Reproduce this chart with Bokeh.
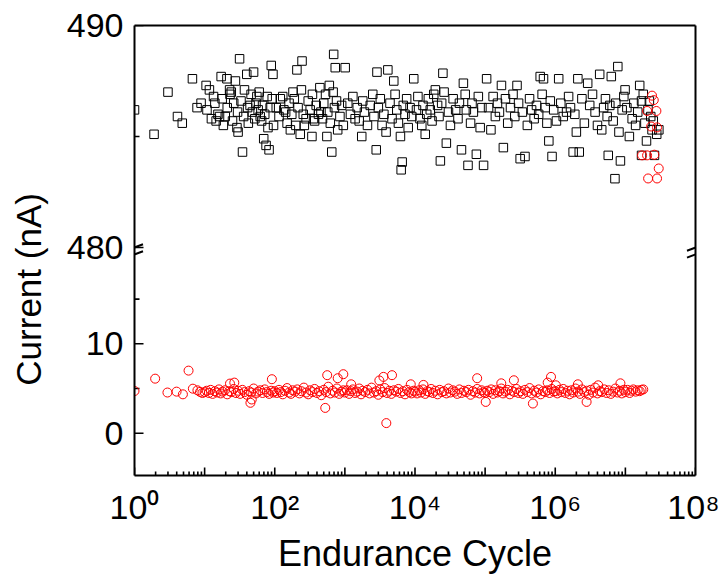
import json, math
from bokeh.plotting import figure
from bokeh.models import (Range1d, LinearAxis, LogAxis, FixedTicker, Arrow,
                          CustomJSTickFormatter)
from bokeh.embed import file_html
from bokeh.resources import INLINE

# ---------------- data ----------------
# High-current state (black squares), top panel, nA
black_x = [
    1, 1.9, 3.0, 4.1, 4.8, 6.7, 7.8, 8.9,
    10.5, 11.7, 13.4, 14.6, 16.3, 17.2, 19.7, 20.8, 22.7, 24, 27.5, 28.9, 31.5, 34.7, 39.9, 44.5,
    49.9, 55.6, 62, 69.6, 75.2, 83, 89.1, 94.3, 96.1,
    10.8, 12.5, 14, 15.5, 17.8, 18.5, 21, 23, 25, 26, 29.5, 30, 33, 36, 37, 41, 42, 46, 48, 52,
    54, 58, 60, 65, 67, 72, 78, 80, 86, 92,
    120, 143, 167, 182, 207, 231, 245, 264, 339, 357, 456, 554, 650, 692, 729, 790,
    105, 115, 130, 135, 150, 160, 175, 190, 200, 215, 240, 255, 280, 300, 320, 345, 370, 390,
    420, 440, 480, 500, 530, 570, 600, 620, 680, 710, 760, 850, 900, 950,
    1010, 1400, 1740, 2870, 2800, 3390, 4100, 4980, 3870, 6200, 6560, 6350, 9600,
    1100, 1200, 1300, 1500, 1600, 1800, 1900, 2100, 2300, 2500, 2600, 3000, 3200, 3600, 4400,
    4700, 5200, 5500, 5800, 6800, 7200, 7600, 8000, 8500, 9000,
    11800, 14000, 14700, 19500, 25000, 23000, 28000, 46000, 49000, 57000, 75000, 95000,
    10500, 11000, 12500, 13000, 15500, 16500, 17500, 18500, 21000, 22000, 24000, 26000, 30000,
    32000, 35000, 38000, 41000, 43000, 52000, 54000, 62000, 65000, 68000, 80000, 85000, 90000,
    105000, 121000, 171000, 182000, 285000, 316000, 370000, 610000, 680000, 810000, 900000,
    112000, 130000, 140000, 150000, 160000, 195000, 210000, 230000, 250000, 265000, 300000,
    340000, 400000, 430000, 460000, 500000, 540000, 580000, 650000, 720000, 760000, 850000, 950000,
    1.12e6, 1.04e6, 1.45e6, 2.0e6, 1.8e6, 2.2e6, 2.1e6, 2.9e6, 4.3e6, 4.6e6, 5.7e6, 6.3e6,
    7.8e6, 9.9e6, 8.5e6, 7.1e6,
    1.2e6, 1.3e6, 1.55e6, 1.65e6, 1.9e6, 2.4e6, 2.6e6, 3.1e6, 3.4e6, 3.7e6, 4.0e6, 4.9e6,
    5.2e6, 5.5e6, 6.0e6, 6.7e6, 7.3e6, 8.1e6, 9.0e6, 9.5e6,
    1.14e7, 1.4e7, 1.6e7, 1.8e7, 1.5e7, 1.7e7, 2.2e7, 2.0e7, 2.4e7, 3.0e7, 1.7e7, 2.6e7,
    1.05e7, 1.25e7, 1.32e7, 1.9e7, 2.1e7, 2.3e7, 2.5e7, 2.8e7,
]
black_y = [
    486.2, 485.1, 487.0, 485.9, 485.6, 487.6, 486.3, 486.5,
    487.3, 487.1, 486.8, 485.7, 485.9, 487.7, 485.9, 487.6, 487.1, 487.0, 487.5, 485.4, 488.5,
    484.3, 487.8, 486.4, 487.9, 486.8, 485.9, 484.9, 484.6, 484.4, 488.2, 487.8, 485.5,
    486.2, 485.8, 486.5, 486.0, 486.7, 485.5, 486.3, 486.9, 485.7, 486.5, 486.1, 485.2, 486.6,
    485.9, 487.1, 486.3, 485.6, 486.9, 486.1, 485.8, 486.5, 486.2, 487.0, 485.7, 486.4, 486.0,
    486.8, 485.4, 486.3, 486.7,
    486.7, 486.1, 485.3, 487.0, 488.0, 485.1, 488.4, 485.5, 485.0, 485.8, 486.1, 485.0, 484.3,
    488.7, 488.1, 485.3,
    486.3, 485.9, 486.8, 486.2, 485.6, 486.5, 486.0, 486.7, 485.5, 486.3, 487.1, 486.0, 485.8,
    486.6, 486.2, 486.9, 485.7, 486.4, 486.0, 487.2, 485.8, 486.5, 486.9, 486.1, 487.3, 485.6,
    487.0, 486.3, 486.6, 485.9, 486.4, 485.5,
    488.1, 485.8, 485.0, 487.9, 484.4, 485.5, 488.0, 487.5, 485.2, 485.0, 483.85, 483.5, 487.6,
    486.5, 486.0, 486.8, 486.3, 485.7, 486.6, 486.1, 485.5, 486.4, 486.9, 485.9, 486.3, 486.7,
    486.0, 486.5, 485.8, 486.9, 486.2, 485.6, 486.4, 486.0, 486.7, 485.4, 486.3, 485.9,
    485.8, 485.1, 486.0, 487.1, 487.85, 483.9, 484.7, 484.4, 487.4, 483.7, 484.2, 483.7,
    486.2, 486.8, 485.5, 486.4, 486.7, 486.2, 485.7, 486.9, 486.4, 485.9, 486.5, 487.0, 486.1,
    485.5, 486.7, 486.2, 485.8, 486.5, 486.9, 486.2, 485.6, 486.5, 486.1, 486.8, 485.4, 486.3,
    487.6, 485.3, 487.3, 484.5, 487.3, 484.0, 484.1, 487.7, 487.6, 484.8, 484.1,
    486.3, 486.8, 485.9, 486.5, 486.1, 486.7, 485.6, 486.3, 486.9, 485.9, 486.5, 486.1, 485.5,
    486.7, 486.2, 485.8, 486.4, 486.0, 486.9, 486.3, 485.6, 486.6, 486.2,
    487.6, 485.7, 486.1, 485.2, 484.3, 484.3, 487.6, 487.4, 487.8, 485.3, 484.15, 487.7,
    488.15, 487.1, 483.9, 483.1,
    486.5, 485.9, 486.8, 486.3, 486.0, 486.7, 485.6, 486.4, 486.9, 486.1, 485.5, 486.3,
    486.7, 485.9, 486.4, 485.7, 486.5, 485.2, 486.2, 486.8,
    485.0, 485.5, 487.3, 486.9, 486.1, 486.6, 486.6, 484.8, 485.3, 485.3, 484.15, 484.15,
    486.3, 485.8, 486.5, 485.6, 486.2, 485.9, 485.7, 485.1,
]

# Red circles that appear in the top panel at the end of the test
red_high_x = [2.40e7, 2.54e7, 2.04e7, 2.77e7, 2.33e7, 2.83e7, 1.73e7, 2.04e7, 2.59e7, 2.99e7,
              2.11e7, 2.83e7]
red_high_y = [486.84, 486.64, 486.15, 486.15, 485.45, 485.41, 484.15, 484.15, 484.18, 483.56,
              483.11, 483.11]

# Low-current state (red circles), bottom panel, nA
red_x = [
    1, 1.97, 2.95, 3.98, 4.9, 5.9, 6.8, 7.9, 8.6, 9.3,
    10, 10.7, 11.5, 12.2, 13, 14, 15, 16, 17, 18, 19.5, 21, 22.5, 24, 26, 28, 30, 32, 34.5, 37,
    40, 43, 46, 50, 54, 58, 62, 67, 72, 77, 83, 89, 95,
    100, 107, 115, 122, 130, 140, 150, 160, 170, 180, 195, 210, 225, 240, 260, 280, 300, 320,
    345, 370, 400, 430, 460, 500, 540, 580, 620, 670, 720, 770, 830, 890, 950,
    1000, 1070, 1150, 1220, 1300, 1400, 1500, 1600, 1700, 1800, 1950, 2100, 2250, 2400, 2600,
    2800, 3000, 3200, 3450, 3700, 4000, 4300, 4600, 5000, 5400, 5800, 6200, 6700, 7200, 7700,
    8300, 8900, 9500,
    1.0e4, 1.07e4, 1.15e4, 1.22e4, 1.3e4, 1.4e4, 1.5e4, 1.6e4, 1.7e4, 1.8e4, 1.95e4, 2.1e4,
    2.25e4, 2.4e4, 2.6e4, 2.8e4, 3.0e4, 3.2e4, 3.45e4, 3.7e4, 4.0e4, 4.3e4, 4.6e4, 5.0e4,
    5.4e4, 5.8e4, 6.2e4, 6.7e4, 7.2e4, 7.7e4, 8.3e4, 8.9e4, 9.5e4,
    1.0e5, 1.07e5, 1.15e5, 1.22e5, 1.3e5, 1.4e5, 1.5e5, 1.6e5, 1.7e5, 1.8e5, 1.95e5, 2.1e5,
    2.25e5, 2.4e5, 2.6e5, 2.8e5, 3.0e5, 3.2e5, 3.45e5, 3.7e5, 4.0e5, 4.3e5, 4.6e5, 5.0e5,
    5.4e5, 5.8e5, 6.2e5, 6.7e5, 7.2e5, 7.7e5, 8.3e5, 8.9e5, 9.5e5,
    1.0e6, 1.07e6, 1.15e6, 1.22e6, 1.3e6, 1.4e6, 1.5e6, 1.6e6, 1.7e6, 1.8e6, 1.95e6, 2.1e6,
    2.25e6, 2.4e6, 2.6e6, 2.8e6, 3.0e6, 3.2e6, 3.45e6, 3.7e6, 4.0e6, 4.3e6, 4.6e6, 5.0e6,
    5.4e6, 5.8e6, 6.2e6, 6.7e6, 7.2e6, 7.7e6, 8.3e6, 8.9e6, 9.5e6,
    1.0e7, 1.07e7, 1.15e7, 1.22e7, 1.3e7, 1.4e7, 1.5e7, 1.6e7, 1.7e7, 1.8e7,
    23, 26.5, 45, 47, 91, 525, 560, 790, 950, 1230, 3100, 3550, 3900, 4700, 8700, 13200,
    77000, 102000, 170000, 257000, 480000, 870000, 1.02e6, 7.8e5, 2.1e6, 2.8e6, 4.1e6, 8.5e6,
]
red_y = [
    4.72, 6.1, 4.55, 4.65, 4.35, 7.0, 4.98, 4.8, 4.62, 4.5,
    4.6, 4.75, 4.5, 4.85, 4.4, 4.7, 4.55, 4.9, 4.45, 4.65, 4.8, 4.35, 4.7, 4.6, 4.95, 4.5, 4.75,
    4.4, 4.85, 4.6, 4.3, 4.7, 4.55, 5.0, 4.45, 4.65, 4.8, 4.5, 4.9, 4.6, 4.4, 4.75, 4.55,
    4.7, 4.5, 4.85, 4.6, 4.35, 4.75, 5.05, 4.55, 4.4, 4.8, 4.65, 4.9, 4.45, 4.7, 5.1, 4.55,
    4.35, 4.8, 4.6, 4.95, 4.5, 4.7, 4.25, 4.85, 4.6, 5.2, 4.45, 4.75, 4.55, 5.0, 4.4, 4.65, 4.8,
    4.55, 4.8, 4.4, 4.7, 4.9, 4.5, 4.65, 5.0, 4.35, 4.75, 4.6, 4.85, 4.45, 5.1, 4.55, 4.7,
    4.3, 4.9, 4.6, 5.05, 4.5, 4.75, 4.4, 4.8, 4.65, 4.95, 4.5, 4.7, 4.35, 4.85, 4.6, 4.45, 4.75,
    4.65, 4.45, 4.8, 4.55, 4.9, 4.4, 4.7, 4.6, 4.95, 4.5, 4.75, 4.35, 4.85, 4.6, 4.7, 4.45,
    5.0, 4.55, 4.8, 4.65, 4.4, 4.9, 4.5, 4.75, 4.6, 4.85, 4.3, 4.7, 4.55, 4.95, 4.45, 4.8, 4.6,
    4.5, 4.75, 4.6, 4.9, 4.4, 4.8, 4.55, 4.7, 5.0, 4.45, 4.65, 4.85, 4.35, 4.75, 4.6, 4.95,
    4.5, 4.7, 4.4, 4.85, 4.6, 5.05, 4.45, 4.75, 4.55, 4.9, 4.35, 4.7, 4.6, 4.8, 4.5, 4.95, 4.65,
    4.7, 4.45, 4.85, 4.6, 4.95, 4.5, 4.75, 4.35, 4.8, 4.55, 5.0, 4.65, 4.4, 4.9, 4.6, 4.75,
    4.3, 4.85, 4.55, 5.1, 4.45, 4.7, 4.6, 4.9, 4.5, 4.8, 4.4, 4.65, 5.0, 4.55, 4.75, 4.45, 4.85,
    4.6, 4.85, 4.5, 4.75, 4.9, 4.65, 4.8, 4.7, 4.85, 4.9,
    5.55, 5.66, 3.4, 3.77, 6.04, 2.83, 6.49, 6.15, 6.6, 5.47, 5.9, 6.3, 1.13, 6.49, 5.47, 5.4,
    6.15, 3.5, 5.58, 5.92, 3.32, 6.3, 5.36, 5.66, 5.47, 3.5, 5.36, 5.58,
]

# Axes
x_major_ticks = [1, 10, 100, 1e3, 1e4, 1e5, 1e6, 1e7, 1e8]
x_tick_labels = ["10\u2070", "", "10\u00b2", "", "10\u2074", "", "10\u2076", "", "10\u2078"]
x_minor_ticks = [m * d for d in x_major_ticks[:-1] for m in range(2, 10)]
low_major_ticks, low_minor_ticks = [0, 10], [5, 15]
high_major_ticks, high_minor_ticks = [480, 490], [485]
LOW_RANGE = (-4.73, 45.6)      # bottom panel scale, spread over the whole frame
HIGH_RANGE = (469.73, 490.0)   # top panel scale, spread over the whole frame
BREAK_LOW, BREAK_HIGH = 20, 480
y_title = "Current (nA)"
x_title = "Endurance Cycle"

FONT = "Liberation Sans"
FW, FH = 561, 450

p = figure(width=719, height=576, x_axis_type="log",
           x_range=Range1d(1, 1e8), y_range=Range1d(*LOW_RANGE),
           output_backend="svg", toolbar_location=None,
           min_border_left=134, min_border_right=24, min_border_top=25,
           min_border_bottom=101)
p.extra_y_ranges = {"high": Range1d(*HIGH_RANGE)}
p.xgrid.visible = False
p.ygrid.visible = False
p.outline_line_color = None

def to_low(v):
    return LOW_RANGE[0] + (v - HIGH_RANGE[0]) / (HIGH_RANGE[1] - HIGH_RANGE[0]) * (LOW_RANGE[1] - LOW_RANGE[0])

threshold = (max(low_major_ticks + low_minor_ticks) + to_low(min(high_major_ticks + high_minor_ticks))) / 2

# bottom (log) axis
xa = p.xaxis[0]
xa.ticker = FixedTicker(ticks=x_major_ticks, minor_ticks=x_minor_ticks)
xa.formatter = CustomJSTickFormatter(code="""
const labels = %s;
const e = Math.round(Math.log10(tick));
return labels[e];
""" % json.dumps(x_tick_labels))
xa.axis_label = x_title

# left axis (shared by both panels)
ya = p.yaxis[0]
ya.ticker = FixedTicker(ticks=low_major_ticks + [to_low(v) for v in high_major_ticks],
                        minor_ticks=low_minor_ticks + [to_low(v) for v in high_minor_ticks])
ya.formatter = CustomJSTickFormatter(code="""
if (tick > %f) {
  return String(Math.round(%f + (tick - %f) * %f));
}
return String(Math.round(tick));
""" % (threshold, HIGH_RANGE[0], LOW_RANGE[0],
       (HIGH_RANGE[1] - HIGH_RANGE[0]) / (LOW_RANGE[1] - LOW_RANGE[0])))
# title is padded at its far end so that its visible text sits where the reference has it
ya.axis_label = y_title + "\u00a0" * 8

for ax, stand, lstand in ((xa, 12, 4), (ya, 11, 16)):
    ax.axis_line_width = 2
    ax.major_tick_in = 0
    ax.major_tick_out = 0
    ax.minor_tick_in = 0
    ax.minor_tick_out = 0
    ax.major_label_text_font = FONT
    ax.major_label_text_font_size = "34px"
    ax.major_label_text_color = "black"
    ax.major_label_standoff = stand
    ax.axis_label_text_font = FONT
    ax.axis_label_text_font_size = "35px"
    ax.axis_label_text_font_style = "normal"
    ax.axis_label_text_color = "black"
    ax.axis_label_standoff = lstand
xa.axis_label_text_font_size = "36px"

top_axis = LogAxis(ticker=FixedTicker(ticks=[]), axis_line_width=2,
                   major_tick_line_color=None, minor_tick_line_color=None,
                   major_label_text_font_size="0px")
right_axis = LinearAxis(ticker=FixedTicker(ticks=[]), axis_line_width=2,
                        major_tick_line_color=None, minor_tick_line_color=None,
                        major_label_text_font_size="0px")
p.add_layout(top_axis, "above")
p.add_layout(right_axis, "right")

# inward tick marks (Origin style) drawn as thin filled bars from the tick lists
low_per_px = (LOW_RANGE[1] - LOW_RANGE[0]) / FH
high_per_px = (HIGH_RANGE[1] - HIGH_RANGE[0]) / FH
dec_per_px = 8.0 / FW
TW = 1.6  # tick thickness, px
x_ticks_all = x_major_ticks + x_minor_ticks
x_len = [8] * len(x_major_ticks) + [4] * len(x_minor_ticks)
p.quad(left=[t * 10 ** (-0.5 * TW * dec_per_px) for t in x_ticks_all],
       right=[t * 10 ** (0.5 * TW * dec_per_px) for t in x_ticks_all],
       bottom=[LOW_RANGE[0]] * len(x_ticks_all),
       top=[LOW_RANGE[0] + L * low_per_px for L in x_len],
       fill_color="black", line_color=None)
low_ticks_all = low_major_ticks + low_minor_ticks
low_len = [9] * len(low_major_ticks) + [5] * len(low_minor_ticks)
p.quad(left=[1] * len(low_ticks_all), right=[10 ** (L * dec_per_px) for L in low_len],
       bottom=[t - 0.5 * TW * low_per_px for t in low_ticks_all],
       top=[t + 0.5 * TW * low_per_px for t in low_ticks_all],
       fill_color="black", line_color=None)
high_ticks_all = high_major_ticks + high_minor_ticks
high_len = [9] * len(high_major_ticks) + [5] * len(high_minor_ticks)
p.quad(left=[1] * len(high_ticks_all), right=[10 ** (L * dec_per_px) for L in high_len],
       bottom=[t - 0.5 * TW * high_per_px for t in high_ticks_all],
       top=[t + 0.5 * TW * high_per_px for t in high_ticks_all],
       fill_color="black", line_color=None, y_range_name="high")

# data
p.scatter(black_x, black_y, y_range_name="high", marker="square", size=8.5,
          line_color="black", line_width=1, fill_color=None)
p.scatter(red_high_x, red_high_y, y_range_name="high", marker="circle", size=9,
          line_color="red", line_width=1, fill_color=None)
p.scatter(red_x, red_y, marker="circle", size=9,
          line_color="red", line_width=1, fill_color=None)

# axis-break marks on left and right spines
half_dec = 8.5 * dec_per_px
for xc in (1, 1e8):
    x0, x1 = xc * 10 ** (-half_dec), xc * 10 ** half_dec
    dh = 3.2 * high_per_px
    dl = 3.2 * low_per_px
    p.add_layout(Arrow(end=None, x_start=x0, x_end=x1, y_start=BREAK_HIGH - dh,
                       y_end=BREAK_HIGH + dh, y_range_name="high",
                       line_width=2, line_color="black"))
    p.add_layout(Arrow(end=None, x_start=x0, x_end=x1, y_start=BREAK_LOW - dl,
                       y_end=BREAK_LOW + dl, line_width=2, line_color="black"))

open("out.html", "w").write(file_html(p, INLINE))
